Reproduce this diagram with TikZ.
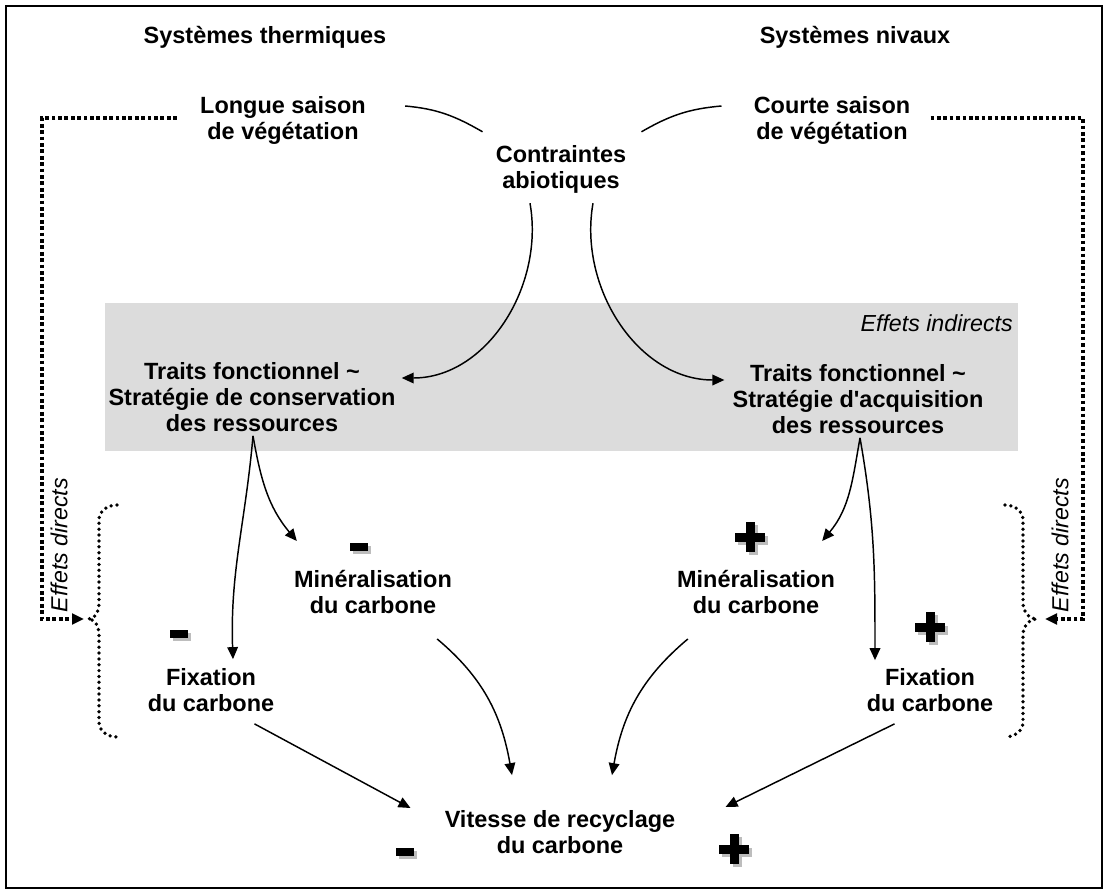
\documentclass[tikz,border=0pt]{standalone}
\usepackage{fontspec}
\setmainfont{Liberation Sans}
\usetikzlibrary{arrows.meta,calc}
\definecolor{boxgris}{HTML}{DCDCDC}
\definecolor{ombre}{HTML}{BDBDBD}
\tikzset{
  lbl/.style={font=\bfseries\fontsize{17.6}{19.5}\selectfont,align=center,inner sep=0pt},
  effet/.style={font=\itshape\fontsize{17.4}{19.5}\selectfont,inner sep=0pt},
  fleche/.style={->,line width=1.1pt},
  trait/.style={line width=1.1pt},
  pointille/.style={line width=2.8pt,dash pattern=on 2.8pt off 2pt},
  accolade/.style={line width=2.8pt,line cap=round,dash pattern=on 0pt off 4.4pt},
  signplus/.pic={
    \fill[ombre] (-12,-1.5) rectangle (18,7.5);
    \fill[ombre] (-1.5,-12) rectangle (7.5,18);
    \fill (-15,-4.5) rectangle (15,4.5);
    \fill (-4.5,-15) rectangle (4.5,15);
  },
  signmoins/.pic={
    \fill[ombre] (-6,-1) rectangle (12,7);
    \fill (-9,-4) rectangle (9,4);
  }
}
\begin{document}
\begin{tikzpicture}[x=0.75pt,y=-0.75pt,>={Triangle[length=9pt,width=8pt]}]
    \useasboundingbox (0,0) rectangle (1108,893);
    \draw[line width=1.5pt] (6,6) rectangle (1102,888);
    \fill[boxgris] (105,303) rectangle (1018,451);
    \node[lbl] (thermo) at (265,37) {Systèmes thermiques};
    \node[lbl] (nival) at (855,37) {Systèmes nivaux};
    \node[lbl] (longue) at (283,120) {Longue saison\\de végétation};
    \node[lbl] (courte) at (832,120) {Courte saison\\de végétation};
    \node[lbl] (contr) at (561,169) {Contraintes\\abiotiques};
    \node[effet,anchor=east] (indirect) at (1013,323) {Effets indirects};
    \node[lbl] (traitsC) at (252,397) {Traits fonctionnel \textasciitilde\\Stratégie de conservation\\des ressources};
    \node[lbl] (traitsA) at (858,399) {Traits fonctionnel \textasciitilde\\Stratégie d\textquotesingle acquisition\\des ressources};
    \node[lbl] (mineC) at (373,592) {Minéralisation\\du carbone};
    \node[lbl] (mineA) at (756,592) {Minéralisation\\du carbone};
    \node[lbl] (fixC) at (211,690) {Fixation\\du carbone};
    \node[lbl] (fixA) at (930,690) {Fixation\\du carbone};
    \node[lbl] (vitesse) at (560,832) {Vitesse de recyclage\\du carbone};
    \node[effet,rotate=90] (directC) at (59,545) {Effets directs};
    \node[effet,rotate=90] (directA) at (1060,545) {Effets directs};
    \coordinate (braceC) at (84,619);
    \coordinate (braceA) at (1045,619);
    \draw[trait] ($(longue.east)+(39,-14)$) to[out=-5,in=150] ($(contr.north west)+(-13,-13)$);
    \draw[trait] ($(courte.west)+(-32,-14)$) to[out=185,in=30] ($(contr.north east)+(15,-13)$);
    \draw[fleche] ($(contr.south)+(-31,10)$) to[out=-80,in=0] ($(traitsC.east)+(6,-19)$);
    \draw[fleche] ($(contr.south)+(32,10)$) to[out=-100,in=180] ($(traitsA.west)+(-8,-19)$);
    \draw[fleche] ($(traitsC.south)+(1,4)$) to[out=-95,in=92] ($(fixC.north)+(22,-9)$);
    \draw[fleche] ($(traitsC.south)+(1,4)$) to[out=-80,in=130] ($(mineC.north west)+(3,-29)$);
    \draw[fleche] ($(traitsA.south)+(2,4)$) to[out=-100,in=50] ($(mineA.north east)+(-13,-29)$);
    \draw[fleche] ($(traitsA.south)+(2,4)$) to[out=-80,in=90] ($(fixA.north)+(-55,-8)$);
    \draw[fleche] ($(mineC.south east)+(-15,25)$) to[out=-40,in=100] ($(vitesse.north)+(-48,-35)$);
    \draw[fleche] ($(mineA.south west)+(11,25)$) to[out=-140,in=80] ($(vitesse.north)+(52,-35)$);
    \draw[fleche] ($(fixC.south east)+(-20,12)$) -- ($(vitesse.west)+(-34,-24)$);
    \draw[fleche] ($(fixA.south west)+(28,12)$) -- ($(vitesse.east)+(50,-25)$);
    \draw[pointille,->] ($(longue.west)+(-23,-2)$) -- (42,118) |- (braceC);
    \draw[pointille,->] ($(courte.east)+(20,-2)$) -- (1083,118) |- (braceA);
    \draw[accolade] (117,505) to[out=180,in=90] (99,520) -- (99,603) to[out=-90,in=0] (88,619) to[out=0,in=90] (99,635) -- (99,722) to[out=-90,in=180] (117,737);
    \draw[accolade] (1005,505) to[out=0,in=90] (1023,520) -- (1023,603) to[out=-90,in=180] (1037,619) to[out=180,in=90] (1023,635) -- (1023,722) to[out=-90,in=0] (1005,737);
    \pic at (359,547) {signmoins};
    \pic at (179,634) {signmoins};
    \pic at (405,852) {signmoins};
    \pic at (750,537) {signplus};
    \pic at (930,627) {signplus};
    \pic at (734,849) {signplus};
\end{tikzpicture}
\end{document}
